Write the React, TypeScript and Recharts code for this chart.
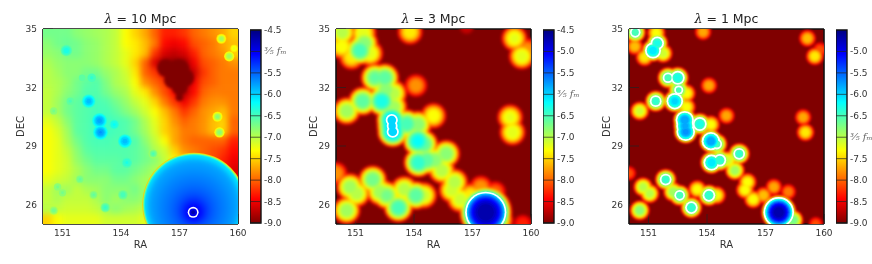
import { ReferenceArea, Scatter, ScatterChart, XAxis, YAxis } from 'recharts'

const raTicks = [151, 154, 157, 160]
const decTicks = [26, 29, 32, 35]
const barTicks10 = [-4.5, -5, -5.5, -6, -6.5, -7, -7.5, -8, -8.5, -9]
const barTicks3 = [-4.5, -5, -5.5, -6, -6.5, -7, -7.5, -8, -8.5, -9]
const barTicks1 = [-5, -5.5, -6, -6.5, -7, -7.5, -8, -8.5, -9]
const barEnds = [
  { x: 0, y: -9 },
  { x: 1, y: -4.5 },
]
const levels = [-8.9, -8.8, -8.7, -8.6, -8.5, -8.4, -8.3, -8.2, -8.1, -8, -7.9, -7.8, -7.7, -7.6, -7.5, -7.4, -7.3, -7.2, -7.1, -7, -6.9, -6.8, -6.7, -6.6, -6.5, -6.4, -6.3, -6.2, -6.1, -6, -5.9, -5.8, -5.7, -5.6, -5.5, -5.4, -5.3, -5.2, -5.1, -5, -4.9, -4.8, -4.7, -4.6]

// lambda = 10 Mpc: coarse field, 0.5 deg cells
const fieldRa = [150.25, 150.75, 151.25, 151.75, 152.25, 152.75, 153.25, 153.75, 154.25, 154.75, 155.25, 155.75, 156.25, 156.75, 157.25, 157.75, 158.25, 158.75, 159.25, 159.75]
const fieldDec = [34.75, 34.25, 33.75, 33.25, 32.75, 32.25, 31.75, 31.25, 30.75, 30.25, 29.75, 29.25, 28.75, 28.25, 27.75, 27.25, 26.75, 26.25, 25.75, 25.25]
const field10 = [
  [-6.7, -6.7, -6.7, -6.8, -6.85, -6.9, -6.95, -7.05, -7.3, -7.5, -7.7, -8, -8.3, -8.3, -8.2, -8, -7.9, -7.8, -7.7, -7.5],
  [-6.8, -6.7, -6.65, -6.7, -6.8, -6.85, -6.95, -7.05, -7.3, -7.4, -7.6, -7.9, -8.4, -8.5, -8.4, -8.1, -8, -7.9, -7.7, -7.6],
  [-6.85, -6.8, -6.7, -6.7, -6.8, -6.85, -6.95, -7.05, -7.2, -7.4, -7.6, -8.2, -8.6, -8.7, -8.6, -8.3, -8, -7.9, -7.8, -7.5],
  [-6.95, -6.85, -6.8, -6.8, -6.8, -6.85, -6.95, -7.05, -7.2, -7.5, -8, -8.6, -8.9, -8.9, -8.9, -8.5, -8.1, -8, -7.9, -7.8],
  [-7, -6.9, -6.8, -6.8, -6.7, -6.7, -6.85, -6.95, -7.1, -7.4, -8, -8.2, -8.6, -8.9, -8.9, -8.7, -8.2, -8, -7.9, -7.9],
  [-7, -6.95, -6.85, -6.7, -6.6, -6.55, -6.75, -6.95, -7.05, -7.3, -7.8, -8, -8.2, -8.6, -8.9, -8.5, -8.1, -8, -7.9, -7.9],
  [-7.05, -6.95, -6.8, -6.7, -6.55, -6.55, -6.7, -6.85, -6.95, -7.2, -7.4, -7.8, -8.1, -8.4, -8.8, -8.4, -8, -7.9, -7.9, -7.9],
  [-7.05, -6.9, -6.7, -6.6, -6.55, -6.5, -6.55, -6.7, -6.85, -7.05, -7.2, -7.5, -7.9, -8.2, -8.5, -8.2, -7.9, -7.8, -7.8, -7.9],
  [-7.05, -6.9, -6.7, -6.6, -6.55, -6.5, -6.5, -6.6, -6.75, -6.9, -7.1, -7.3, -7.6, -7.9, -8.2, -8, -7.8, -7.7, -7.6, -7.9],
  [-7.2, -7.05, -6.8, -6.6, -6.55, -6.45, -6.45, -6.5, -6.55, -6.7, -6.95, -7.2, -7.5, -7.8, -8, -7.9, -7.8, -7.6, -7.5, -8],
  [-7.3, -7.15, -6.9, -6.6, -6.55, -6.45, -6.45, -6.5, -6.55, -6.7, -6.9, -7.15, -7.5, -7.7, -7.9, -7.9, -7.8, -7.6, -7.5, -8],
  [-7.3, -7.2, -6.95, -6.7, -6.55, -6.5, -6.5, -6.55, -6.5, -6.55, -6.8, -7.05, -7.3, -7.7, -7.9, -8, -8, -8, -8, -8.3],
  [-7.3, -7.2, -7.05, -6.8, -6.6, -6.55, -6.55, -6.55, -6.55, -6.6, -6.7, -6.95, -7.1, -7.5, -7.8, -7.9, -8, -8.1, -8.2, -8.4],
  [-7.3, -7.2, -7.1, -6.85, -6.7, -6.6, -6.6, -6.6, -6.55, -6.6, -6.7, -6.8, -7.05, -7.3, -7.5, -7.9, -8, -8.1, -8.3, -8.5],
  [-7.3, -7.2, -7.1, -6.95, -6.8, -6.7, -6.7, -6.6, -6.6, -6.7, -6.8, -6.95, -7.1, -7.2, -7.5, -7.6, -7.8, -8, -8.3, -8.6],
  [-7.2, -7.1, -7.05, -6.9, -6.8, -6.8, -6.8, -6.7, -6.7, -6.8, -6.9, -7.05, -7.1, -7.2, -7.5, -7.5, -7.5, -7.5, -7.5, -8.6],
  [-7.05, -6.9, -6.9, -7.05, -6.95, -6.9, -6.8, -6.8, -6.8, -6.7, -6.9, -7.05, -7.1, -7.2, -7.5, -7.5, -7.5, -7.5, -7.5, -7.5],
  [-7.05, -6.95, -7.05, -7.05, -7.05, -6.95, -6.8, -6.9, -6.8, -6.8, -6.9, -7.05, -7.1, -7.2, -7.5, -7.5, -7.5, -7.5, -7.5, -7.5],
  [-7, -7.05, -7.1, -7.1, -7.1, -7.05, -6.9, -6.8, -6.9, -6.95, -7.05, -7.1, -7.2, -7.2, -7.5, -7.5, -7.5, -7.5, -7.5, -7.5],
  [-7.5, -7.3, -7.2, -7.2, -7.2, -7.2, -7.1, -7.1, -7.1, -7.1, -7.2, -7.2, -7.2, -7.2, -7.5, -7.5, -7.5, -7.5, -7.5, -7.5],
]

// the dark pentagon of the lambda = 10 panel, filled with a few discs
const pitRa = [156.3, 156.95, 157.3, 157, 157, 156.65]
const pitDec = [33, 32.9, 32.5, 32, 31.5, 32.4]
const pitRadius = [0.45, 0.55, 0.45, 0.4, 0.2, 0.45]

// small bright spots on top of that field
const spotRa = [152.9, 152.95, 152.35, 154.2, 153.65, 151.2, 154.3, 155.65, 152.5, 152, 151.4, 150.55, 151.9, 150.75, 151, 150.55, 152.6, 154.1, 153.2, 158.95, 159.05, 159.15, 159.55, 159.8]
const spotDec = [30.3, 29.7, 31.3, 29.25, 30.1, 33.9, 28.15, 28.6, 32.5, 32.5, 31.3, 30.8, 27.3, 26.9, 26.6, 25.7, 26.5, 26.5, 25.85, 30.5, 29.7, 34.5, 33.6, 34]
const spotPeak = [-5.75, -5.7, -5.85, -5.85, -6.2, -6.25, -6.3, -6.5, -6.4, -6.55, -6.5, -6.7, -6.6, -6.7, -6.7, -6.65, -6.6, -6.45, -6.4, -6.75, -6.75, -6.85, -6.85, -7.2]
const spotSize = [0.4, 0.4, 0.38, 0.38, 0.28, 0.33, 0.28, 0.24, 0.24, 0.24, 0.24, 0.24, 0.24, 0.24, 0.24, 0.24, 0.24, 0.28, 0.28, 0.28, 0.28, 0.28, 0.28, 0.22]

// the big disc in the lower right corner: a sharp rim, then a soft inside
const rimLevel = [-7.5, -6.9, -6.4, -6.1]
const rimRadius = [2.66, 2.62, 2.58, 2.52]
const discLevel = [-5.85, -5.8, -5.75, -5.7, -5.65, -5.6, -5.55, -5.5, -5.45, -5.4, -5.35, -5.3, -5.25, -5.2, -5.15, -5.1, -5.05]
const discDec = [25.97, 25.94, 25.9, 25.86, 25.82, 25.79, 25.76, 25.74, 25.72, 25.7, 25.68, 25.66, 25.65, 25.63, 25.62, 25.61, 25.6]
const discRadius = [2.42, 2.32, 2.2, 2, 1.8, 1.58, 1.35, 1.16, 1, 0.87, 0.75, 0.67, 0.6, 0.52, 0.45, 0.4, 0.35]
const coreLevel = [-4.95, -4.7]
const coreRadius = [0.2, 0.1]

// source positions shared by the lambda = 3 and lambda = 1 panels
const srcRa = [150.32, 151.4, 150.3, 151.23, 151.45, 151.75, 150.8, 152, 152.5, 154.1, 152.55, 152.95, 152.35, 151.37, 150.55, 152.95, 152.86, 152.91, 153.63, 154.2, 155, 154.2, 154.5, 154.23, 154.66, 155.65, 155.08, 155.43, 156.08, 155.95, 156.37, 156.9, 157.43, 158.17, 157.68, 158.42, 158.93, 159.05, 159.15, 159.53, 159.8, 159.58, 153.8, 151.88, 150.72, 151.06, 150.55, 152.6, 152.26, 153.5, 154.1, 154.5, 153.2, 150, 156.7, 152.88]
const srcDec = [34.83, 34.8, 34.1, 33.9, 34.27, 33.75, 33.55, 32.5, 32.5, 32.1, 31.87, 31.7, 31.3, 31.3, 30.8, 31, 30.33, 29.73, 30.13, 30.1, 30.55, 29.25, 29.1, 28.15, 28.27, 28.6, 28.27, 27.75, 27.15, 26.75, 26.27, 26.47, 26.9, 26.65, 25.6, 25.2, 30.47, 29.7, 34.52, 33.6, 33.95, 25, 34.85, 27.28, 26.9, 26.56, 25.7, 26.47, 26.65, 26.78, 26.47, 26.47, 25.84, 27.6, 35.1, 30.03]
const srcPeak3 = [-6.9, -7.1, -7.2, -6.4, -6.7, -7.1, -7.3, -6.55, -6.5, -7.7, -6.7, -6.9, -6.2, -6.5, -6.8, -6.8, -5.95, -5.95, -6.4, -6.7, -7.2, -6.15, -6.5, -6.3, -6.5, -6.7, -6.7, -6.9, -6.9, -7, -7, -7.3, -7.7, -7.9, -4.6, -7.1, -7.15, -7.1, -7.15, -7.1, -7.7, -8.2, -7.3, -6.6, -6.8, -6.9, -6.8, -6.65, -6.8, -6.9, -6.5, -7, -6.4, -7.7, -8.6, -5.97]
const srcPeak1 = [-6.4, -7.2, -7.5, -6, -6.25, -7, -7.3, -6.4, -6.2, -7.6, -6.45, -7.2, -5.95, -6.35, -7, -7.2, -5.7, -5.65, -6.2, -7.2, -7.6, -5.7, -6.4, -6, -6.3, -6.35, -7, -6.8, -7.2, -7.2, -7.2, -7.5, -7.6, -7.8, -4.6, -6.6, -7.6, -7.3, -7.5, -7.3, -8, -8, -7.6, -6.35, -6.9, -6.9, -6.7, -6.4, -6.8, -7.2, -6.3, -7.2, -6.3, -8, -9, -5.75]

type Ring = { ra: number; dec: number; level: number; radius: number; white: boolean }

const PX_PER_DEG = 19.5
const BIG_SOURCE = 34
const CONTOUR_WIDTH = 0.09

function jet(v: number) {
  const s = 1 - (v + 9) / 4.5
  const c = (x: number) => Math.round(255 * Math.max(0, Math.min(1, x)))
  const r = c(Math.min(4 * s - 1.5, -4 * s + 4.5))
  const g = c(Math.min(4 * s - 0.5, -4 * s + 3.5))
  const b = c(Math.min(4 * s + 0.5, -4 * s + 2.5))
  return `rgb(${r},${g},${b})`
}

function sourceRings(peaks: number[], width: number, power: number, bigSpread: number, contour: number) {
  const rings: Ring[] = []
  const radiusOf = (peak: number, level: number, i: number) =>
    width * (i === BIG_SOURCE ? bigSpread : 1) * Math.pow(Math.max(0, peak - level), power)
  levels.forEach((level) => {
    if (Math.abs(level - contour) < 0.01) {
      peaks.forEach((peak, i) => {
        if (peak >= level) rings.push({ ra: srcRa[i], dec: srcDec[i], level, radius: radiusOf(peak, level, i) + CONTOUR_WIDTH, white: true })
      })
    }
    peaks.forEach((peak, i) => {
      if (peak >= level) rings.push({ ra: srcRa[i], dec: srcDec[i], level, radius: radiusOf(peak, level, i), white: false })
    })
  })
  return rings
}

const fieldCells = field10.flatMap((row, j) =>
  row.map((value, i) => ({ ra: fieldRa[i], dec: fieldDec[j], value, i, j })),
)

function nearestField(ra: number, dec: number) {
  const i = Math.max(0, Math.min(19, Math.round((ra - 150.25) / 0.5)))
  const j = Math.max(0, Math.min(19, Math.round((34.75 - dec) / 0.5)))
  return field10[j][i]
}

const pitRings: Ring[] = pitRa.map((ra, i) => ({ ra, dec: pitDec[i], level: -9, radius: pitRadius[i], white: false }))

const spotRings: Ring[] = levels.flatMap((level) =>
  spotPeak.flatMap((peak, i) => {
    const floor = Math.min(nearestField(spotRa[i], spotDec[i]), peak - 0.15)
    if (level <= floor || level > peak) return []
    return [{ ra: spotRa[i], dec: spotDec[i], level, radius: spotSize[i] * Math.sqrt((peak - level + 0.02) / (peak - floor)), white: false }]
  }),
)

const rimRings: Ring[] = rimLevel.map((level, i) => ({ ra: 157.75, dec: 26, level, radius: rimRadius[i], white: false }))
const discRings: Ring[] = discLevel.map((level, i) => ({ ra: 157.73, dec: discDec[i], level, radius: discRadius[i], white: false }))

const coreRings: Ring[] = [
  { ra: 157.7, dec: 25.6, level: -4.95, radius: coreRadius[0] + 0.08, white: true },
  ...coreLevel.map((level, i) => ({ ra: 157.7, dec: 25.6, level, radius: coreRadius[i], white: false })),
]

const rings3 = sourceRings(srcPeak3, 0.58, 0.32, 1.5, -6)
const rings1 = sourceRings(srcPeak1, 0.41, 0.35, 1.35, -6.5)

function RingShape(props: any) {
  const ring: Ring = props.payload ?? props
  return <circle cx={props.cx} cy={props.cy} r={ring.radius * PX_PER_DEG} fill={ring.white ? '#fff' : jet(ring.level)} />
}

function CellShape(props: any) {
  const { i, j, value } = props.payload ?? props
  const half = 5.2
  const left = props.cx - half - (i === 0 ? 14 : 0)
  const top = props.cy - half - (j === 0 ? 14 : 0)
  const w = half * 2 + (i === 0 || i === 19 ? 14 : 0)
  const h = half * 2 + (j === 0 || j === 19 ? 14 : 0)
  return <rect x={left} y={top} width={w} height={h} fill={jet(value)} />
}

const font = { fontFamily: 'DejaVu Sans', fontSize: 9, fill: '#333' }
const frame = { stroke: '#111', strokeWidth: 1.6 }
const tickMark = { stroke: '#222', strokeWidth: 0.7 }

function Panel({ left, title, rings, contour, field, lowClass }: { left: number; title: string; rings: Ring[]; contour: number; field?: boolean; lowClass: string }) {
  const low = rings.filter((r) => r.level < contour)
  const high = rings.filter((r) => r.level >= contour)
  return (
    <div style={{ position: 'absolute', left, top: 0, width: 290, height: 264 }}>
      <div style={{ position: 'absolute', left: 43, width: 195, top: 11, textAlign: 'center', fontFamily: 'DejaVu Sans', fontSize: 12.5, lineHeight: '16px', color: '#222' }}>
        <span style={{ fontFamily: 'DejaVu Serif', fontStyle: 'italic' }}>λ</span> = {title} Mpc
      </div>
      <ScatterChart width={290} height={264} margin={{ top: 0, right: 0, bottom: 0, left: 0 }}>
        {!field && <ReferenceArea x1={150} x2={160} y1={25} y2={35} fill="#800000" fillOpacity={1} stroke="none" />}
        {field && <Scatter data={fieldCells} shape={CellShape} isAnimationActive={false} className="heat-soft" />}
        {field && <Scatter data={pitRings} shape={RingShape} isAnimationActive={false} className="heat-mid" />}
        <Scatter data={low} shape={RingShape} isAnimationActive={false} className={lowClass} />
        <Scatter data={high} shape={RingShape} isAnimationActive={false} className="heat-sharp" />
        {field && <Scatter data={rimRings} shape={RingShape} isAnimationActive={false} className="heat-sharp" />}
        {field && <Scatter data={discRings} shape={RingShape} isAnimationActive={false} className="heat-disc" />}
        {field && <Scatter data={coreRings} shape={RingShape} isAnimationActive={false} className="heat-sharp" />}
        <XAxis dataKey="ra" type="number" domain={[150, 160]} ticks={raTicks} allowDataOverflow height={40} tickSize={-10} tickMargin={16} tick={font} axisLine={frame} tickLine={tickMark} label={{ value: 'RA', position: 'insideBottom', offset: 16, style: { fontFamily: 'DejaVu Sans', fontSize: 10, fill: '#333' } }} />
        <XAxis xAxisId="top" orientation="top" type="number" domain={[150, 160]} ticks={raTicks} allowDataOverflow height={29} tickSize={-10} tick={false} axisLine={frame} tickLine={tickMark} />
        <YAxis dataKey="dec" type="number" domain={[25, 35]} ticks={decTicks} allowDataOverflow width={43} tickSize={-10} tickMargin={16} tick={font} axisLine={frame} tickLine={tickMark} label={{ value: 'DEC', angle: -90, position: 'insideLeft', offset: 20, style: { fontFamily: 'DejaVu Sans', fontSize: 10, fill: '#333', textAnchor: 'middle' } }} />
        <YAxis yAxisId="right" orientation="right" type="number" domain={[25, 35]} ticks={decTicks} allowDataOverflow width={52} tickSize={-10} tick={false} axisLine={frame} tickLine={tickMark} />
      </ScatterChart>
    </div>
  )
}

function ColorBar({ left, ticks, labelAt, id }: { left: number; ticks: number[]; labelAt: number; id: string }) {
  const renderTick = (p: any) => {
    if (p.payload.value === labelAt) {
      return (
        <text x={p.x} y={p.y + 3} fontFamily="DejaVu Serif" fontStyle="italic" fontSize={10} fill="#666">
          ⅗ fₘ
        </text>
      )
    }
    return (
      <text x={p.x} y={p.y + 3} fontFamily="DejaVu Sans" fontSize={9} fill="#333">
        {p.payload.value.toFixed(1)}
      </text>
    )
  }
  return (
    <div style={{ position: 'absolute', left, top: 0, width: 40, height: 264 }}>
      <ScatterChart width={40} height={264} margin={{ top: 30, right: 0, bottom: 41, left: 0 }}>
        <defs>
          <linearGradient id={id} x1="0" y1="0" x2="0" y2="1">
            <stop offset="0" stopColor="#000080" />
            <stop offset="0.125" stopColor="#0000ff" />
            <stop offset="0.375" stopColor="#00ffff" />
            <stop offset="0.5" stopColor="#80ff80" />
            <stop offset="0.625" stopColor="#ffff00" />
            <stop offset="0.875" stopColor="#ff0000" />
            <stop offset="1" stopColor="#800000" />
          </linearGradient>
        </defs>
        <ReferenceArea x1={0} x2={1} y1={-9} y2={-4.5} fill={`url(#${id})`} fillOpacity={1} stroke="#111" strokeWidth={1.4} />
        <Scatter data={barEnds} shape={() => <g />} isAnimationActive={false} />
        <XAxis dataKey="x" type="number" domain={[0, 1]} height={0} tick={false} axisLine={false} tickLine={false} />
        <YAxis dataKey="y" orientation="right" type="number" domain={[-9, -4.5]} ticks={ticks} interval={0} width={29} tickSize={-11} tickMargin={14} tick={renderTick} axisLine={false} tickLine={tickMark} />
      </ScatterChart>
    </div>
  )
}

export default function App() {
  return (
    <div style={{ position: 'absolute', left: 0, top: 0, width: 872, height: 264, overflow: 'hidden', background: '#fff', filter: 'blur(0.35px)' }}>
      <style>{`.heat-soft { filter: blur(3px); } .heat-mid { filter: blur(1.6px); } .heat-low3 { filter: blur(1.8px); } .heat-low1 { filter: blur(1px); } .heat-sharp { filter: blur(0.6px); } .heat-disc { filter: blur(2.5px); }`}</style>
      <Panel left={0} title="10" rings={spotRings} contour={-9} lowClass="heat-sharp" field />
      <ColorBar left={250} ticks={barTicks10} labelAt={-5} id="jet10" />
      <Panel left={293} title="3" rings={rings3} contour={-6} lowClass="heat-low3" />
      <ColorBar left={543} ticks={barTicks3} labelAt={-6} id="jet3" />
      <Panel left={586} title="1" rings={rings1} contour={-6.5} lowClass="heat-low1" />
      <ColorBar left={836} ticks={barTicks1} labelAt={-7} id="jet1" />
    </div>
  )
}
